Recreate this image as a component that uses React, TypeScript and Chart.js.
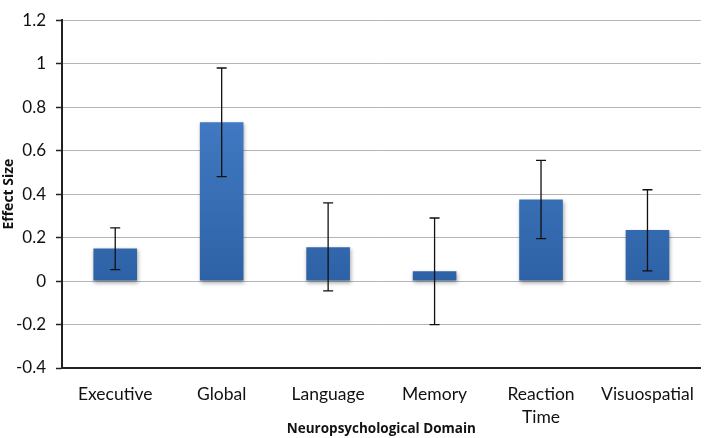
import React, { useEffect, useRef } from "react";
import { Chart, registerables } from "chart.js";

Chart.register(...registerables);

const categories: (string | string[])[] = ["Executive", "Global", "Language", "Memory", ["Reaction", "Time"], "Visuospatial"];
const effectSizes = [0.15, 0.73, 0.155, 0.045, 0.375, 0.235];
const errorUpper = [0.245, 0.98, 0.36, 0.29, 0.555, 0.42];
const errorLower = [0.053, 0.48, -0.045, -0.2, 0.195, 0.047];
const yMin = -0.4;
const yMax = 1.2;
const yStep = 0.2;

const errorBarPlugin = {
  id: "errorBars",
  afterDatasetsDraw(chart: any) {
    const ctx = chart.ctx;
    const meta = chart.getDatasetMeta(0);
    const y = chart.scales.y;
    ctx.save();
    ctx.strokeStyle = "#111";
    ctx.lineWidth = 1.3;
    meta.data.forEach((bar: any, i: number) => {
      const x = bar.x;
      const yt = y.getPixelForValue(errorUpper[i]);
      const yb = y.getPixelForValue(errorLower[i]);
      ctx.beginPath();
      ctx.moveTo(x, yt);
      ctx.lineTo(x, yb);
      ctx.moveTo(x - 5, yt);
      ctx.lineTo(x + 5, yt);
      ctx.moveTo(x - 5, yb);
      ctx.lineTo(x + 5, yb);
      ctx.stroke();
    });
    ctx.restore();
  },
};

const shadowPlugin = {
  id: "barShadow",
  beforeDatasetsDraw(chart: any) {
    const ctx = chart.ctx;
    ctx.save();
    ctx.shadowColor = "rgba(0,0,0,0.35)";
    ctx.shadowBlur = 4;
    ctx.shadowOffsetX = 1;
    ctx.shadowOffsetY = 2;
  },
  afterDatasetsDraw(chart: any) {
    chart.ctx.restore();
  },
};

export default function App() {
  const ref = useRef<HTMLCanvasElement>(null);
  useEffect(() => {
    if (!ref.current) return;
    const chart = new Chart(ref.current, {
      type: "bar",
      data: {
        labels: categories as any,
        datasets: [
          {
            data: effectSizes,
            backgroundColor: (c: any) => {
              const area = c.chart.chartArea;
              if (!area) return "#3a73bd";
              const g = c.chart.ctx.createLinearGradient(0, area.top, 0, c.chart.scales.y.getPixelForValue(0));
              g.addColorStop(0, "#4b88d3");
              g.addColorStop(1, "#2e62a6");
              return g;
            },
            borderWidth: 0,
            barPercentage: 0.41,
            categoryPercentage: 1,
          },
        ],
      },
      options: {
        animation: false,
        responsive: false,
        maintainAspectRatio: false,
        layout: { padding: { top: 6, right: 1, left: 0, bottom: 0 } },
        plugins: { legend: { display: false }, tooltip: { enabled: false } },
        scales: {
          x: {
            grid: { display: false, drawTicks: false },
            border: { display: true, color: "#222", width: 2 },
            ticks: {
              color: "#111",
              font: { family: "Lato", size: 17.5, lineHeight: 1.3 },
              padding: 15,
              maxRotation: 0,
              autoSkip: false,
            },
            title: {
              display: true,
              text: "Neuropsychological Domain",
              color: "#111",
              font: { family: "Open Sans", size: 13.5, weight: "bold" },
              padding: { top: 0, bottom: 1 },
            },
            afterFit: (s: any) => {
              s.height = 70;
            },
          },
          y: {
            min: yMin,
            max: yMax,
            ticks: {
              stepSize: yStep,
              color: "#111",
              font: { family: "Lato", size: 17 },
              padding: 10,
              callback: (v: any) => String(Math.round(Number(v) * 10) / 10),
            },
            grid: {
              color: "#b4b4b4",
              lineWidth: 1,
              tickLength: 6,
              tickColor: "#222",
              tickWidth: 1.5,
            },
            border: { display: true, color: "#222", width: 2 },
            title: {
              display: true,
              text: "Effect Size",
              color: "#111",
              font: { family: "Open Sans", size: 14, weight: "bold" },
              padding: { top: 1, bottom: 0 },
            },
            afterFit: (s: any) => {
              s.width = 62;
            },
          },
        },
      },
      plugins: [shadowPlugin, errorBarPlugin],
    });
    return () => chart.destroy();
  }, []);
  return (
    <div style={{ position: "fixed", left: 0, top: 0, width: 709, height: 438, background: "#fff" }}>
      <canvas ref={ref} width={709} height={438} />
    </div>
  );
}
